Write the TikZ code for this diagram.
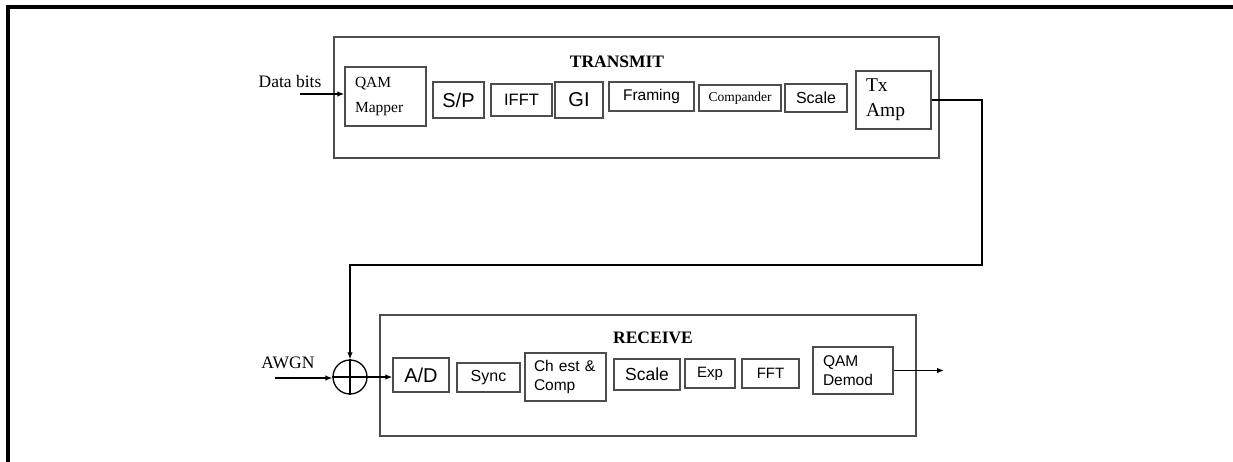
\documentclass[tikz,border=0pt]{standalone}
\usepackage{fontspec}
\setmainfont{Liberation Serif}
\setsansfont{Liberation Sans}
\usepackage{tikz}
\usetikzlibrary{arrows.meta}
\definecolor{boxgray}{HTML}{4D4D4D}

\tikzset{
  blk/.style={draw=boxgray, line width=1.4pt, inner sep=0pt},
  sans/.style 2 args={font=\sffamily\fontsize{#1}{#2}\selectfont},
  serif/.style 2 args={font=\rmfamily\fontsize{#1}{#2}\selectfont},
  title/.style={font=\rmfamily\bfseries\fontsize{17.5}{20}\selectfont},
  conn/.style={line width=1.3pt},
  arr/.style={conn, -{Latex[length=7pt,width=5.5pt]}}
}

\begin{document}
\begin{tikzpicture}[x=1pt, y=-1pt]
\useasboundingbox (0,0) rectangle (1233,462);

\draw[line width=3.5pt] (1233,7) -- (8,7) -- (8,462);

\node[blk, minimum width=605, minimum height=121] (tx) at (636.5,97.5) {};
\node[title] (txtitle) at (617,62) {TRANSMIT};

\node[blk, serif={15.5}{25}, minimum width=81, minimum height=59, text width=61, align=left] (qam) at (385.5,96.5) {QAM\\Mapper};
\node[blk, sans={20}{22}, minimum width=51, minimum height=36] (sp) at (458.5,100) {S/P};
\node[blk, sans={16.5}{19}, minimum width=61, minimum height=32] (ifft) at (521.5,100) {IFFT};
\node[blk, sans={20}{22}, minimum width=48, minimum height=36] (gi) at (579,100) {GI};
\node[blk, sans={15.5}{18}, minimum width=85, minimum height=29] (fram) at (651.5,96.5) {Framing};
\node[blk, serif={13.5}{16}, minimum width=82, minimum height=26] (comp) at (740,98) {Compander};
\node[blk, sans={16}{19}, minimum width=62, minimum height=28] (tscale) at (816,98) {Scale};
\node[blk, serif={19.5}{25}, minimum width=75, minimum height=58, text width=55, align=left] (txamp) at (893.5,100) {Tx\\Amp};

\node[serif={17.5}{20}] (databits) at (290,82) {Data bits};
\coordinate (din) at (300,94);
\draw[arr] (din) -- (din -| qam.west);

\node[blk, minimum width=536, minimum height=121] (rx) at (648,375.5) {};
\node[title] (rxtitle) at (653,338) {RECEIVE};

\node[blk, sans={20}{22}, minimum width=56, minimum height=34] (ad) at (421,375) {A/D};
\node[blk, sans={16}{19}, minimum width=63, minimum height=29] (sync) at (488.5,377.5) {Sync};
\node[blk, sans={15.5}{19}, minimum width=81, minimum height=48, text width=63, align=left] (chest) at (565.5,377) {Ch est \&\\Comp};
\node[blk, sans={17.5}{20}, minimum width=66, minimum height=31] (rscale) at (647,374.5) {Scale};
\node[blk, sans={15}{18}, minimum width=50, minimum height=29] (exp) at (710,373.5) {Exp};
\node[blk, sans={15}{18}, minimum width=57, minimum height=29] (fft) at (770.5,373.5) {FFT};
\node[blk, sans={15.5}{19}, minimum width=80, minimum height=47, text width=60, align=left] (demod) at (853,370.5) {QAM\\Demod};
\coordinate (dout) at (944,370.5);
\draw[arr] (demod.east) -- (dout);

\node[draw, circle, line width=1.3pt, minimum size=34, inner sep=0pt] (adder) at (350,377) {};
\draw[conn] (adder.north) -- (adder.south) (adder.west) -- (adder.east);

\node[serif={17.5}{20}] (awgn) at (288,363) {AWGN};
\coordinate (nin) at (275,378);
\draw[arr] (nin) -- (nin -| adder.west);
\draw[arr] (adder.east) -- (adder.east -| ad.west);

\coordinate (fbturn) at (982,265);
\draw[arr] (txamp.east) -| (fbturn) -| (adder.north);

\end{tikzpicture}
\end{document}
